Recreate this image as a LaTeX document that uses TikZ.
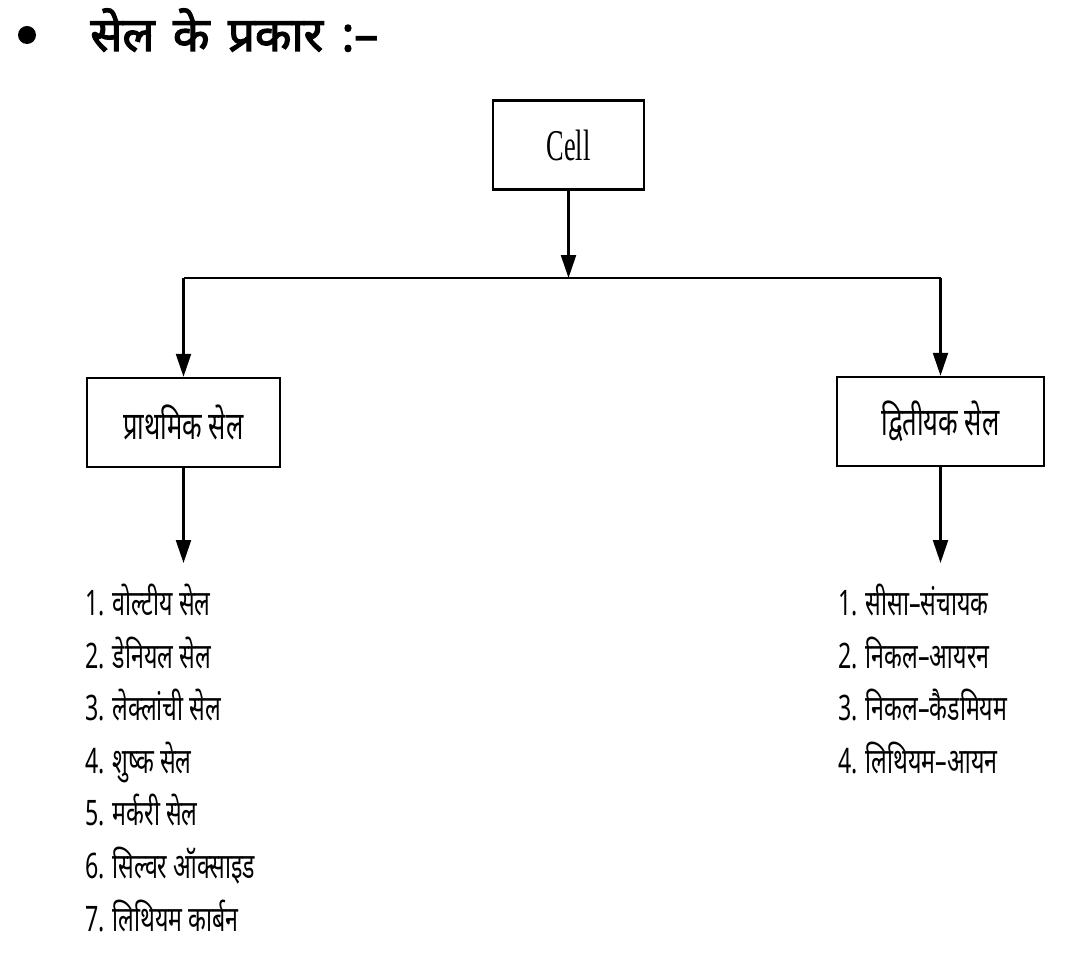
\documentclass[tikz,border=0pt]{standalone}
\usepackage{fontspec}
\newfontfamily\hindifont[Script=Devanagari,FakeStretch=0.66]{Noto Sans}
\newfontfamily\titlefont[Script=Devanagari,FakeBold=2.5,WordSpace=1.5]{Noto Sans}
\newfontfamily\cellfont[FakeStretch=0.6]{Liberation Serif}
\usetikzlibrary{arrows.meta,positioning}

\begin{document}
\begin{tikzpicture}[x=0.02cm,y=-0.02cm,
box/.style = {rectangle, draw, line width=1.4pt, minimum height=1.78cm,
	inner sep=2pt, font=\hindifont\fontsize{22}{26}\selectfont},
itemlist/.style = {align=left, anchor=north west, inner sep=0pt,
	font=\hindifont\fontsize{20}{29.9}\selectfont},
line/.style = {draw, line width=1.3pt, -{Triangle[length=4.6mm,width=3mm]}}]

\useasboundingbox (0,0) rectangle (1068,962);

% heading
\fill (27,35) circle (9);
\node[anchor=base west, inner sep=0pt,
	font=\titlefont\fontsize{27}{30}\selectfont] (title) at (90,51) {सेल के प्रकार :–};

% boxes
\node[box, minimum width=3.02cm, font=\cellfont\fontsize{25}{27}\selectfont] (cell) at (568.5,145) {Cell};
\node[box, minimum width=3.86cm] (prim) at (183.5,422.5) {प्राथमिक सेल};
\node[box, minimum width=4.14cm] (sec) at (940.5,421.5) {द्वितीयक सेल};

\coordinate (jM) at (568.5,278);
\coordinate (jL) at (183.5,278);
\coordinate (jR) at (940.5,278);
\coordinate (eL) at (183.5,563);
\coordinate (eR) at (940.5,563);

% lists
\node[itemlist] (primlist) at (85,584) {1. वोल्टीय सेल\\2. डेनियल सेल\\3. लेक्लांची सेल\\4. शुष्क सेल\\5. मर्करी सेल\\6. सिल्वर ऑक्साइड\\7. लिथियम कार्बन};
\node[itemlist] (seclist) at (838,584) {1. सीसा–संचायक\\2. निकल–आयरन\\3. निकल–कैडमियम\\4. लिथियम–आयन};

\draw[line width=1.3pt] (jL) -- (jR);
\begin{scope}[every path/.style=line]
\path (cell) -- (jM);
\path (jL) -- (prim);
\path (jR) -- (sec);
\path (prim) -- (eL);
\path (sec) -- (eR);
\end{scope}

\end{tikzpicture}
\end{document}
